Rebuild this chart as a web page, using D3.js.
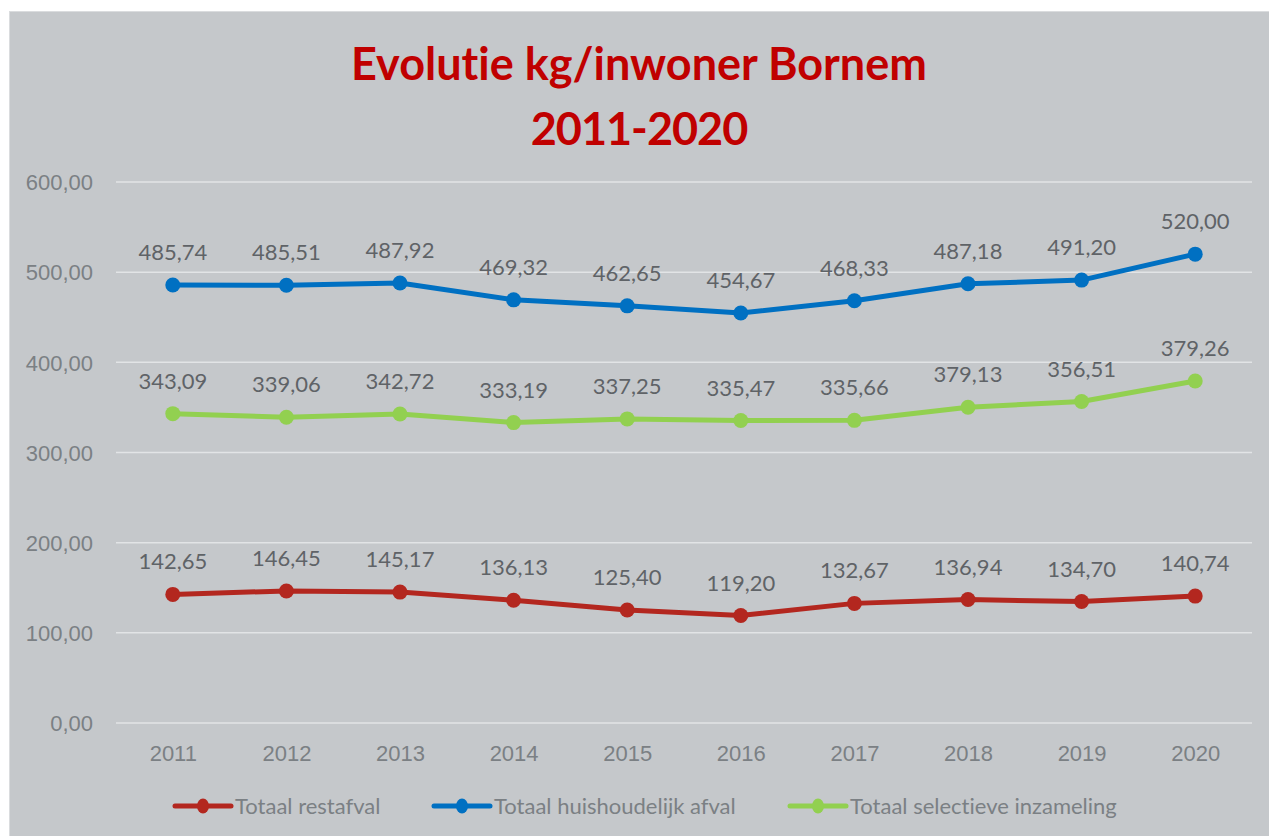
<!DOCTYPE html>
<meta charset="utf-8">
<style>
  body { margin: 0; background: #fff; }
  svg { display: block; font-family: Lato, "Open Sans", sans-serif; font-variant-ligatures: none; }
  .grid line { stroke: #e2e4e6; stroke-width: 1.5; }
  .axis text { fill: #7b8084; font-size: 22px; }
  .dlabel { fill: #5f6367; font-size: 22px; text-anchor: middle; }
  .legend text { fill: #7b8084; font-size: 22px; }
</style>
<script src="https://d3js.org/d3.v7.min.js"></script>
<div id="chart"></div>
<script>

// data
var years = ["2011", "2012", "2013", "2014", "2015", "2016", "2017", "2018", "2019", "2020"];
var restafval     = [142.65, 146.45, 145.17, 136.13, 125.40, 119.20, 132.67, 136.94, 134.70, 140.74];
var huishoudelijk = [485.74, 485.51, 487.92, 469.32, 462.65, 454.67, 468.33, 487.18, 491.20, 520.00];
var selectief     = [343.09, 339.06, 342.72, 333.19, 337.25, 335.47, 335.66, 350.24, 356.51, 379.26];
// the source chart prints a different label for 2018 than the plotted value
var selectiefLabels = ["343,09", "339,06", "342,72", "333,19", "337,25", "335,47", "335,66", "379,13", "356,51", "379,26"];
var yTicks = [0, 100, 200, 300, 400, 500, 600];

var nl = d3.formatLocale({decimal: ",", thousands: ".", grouping: [3], currency: ["€", ""]});
var fmt = nl.format(".2f");

var series = [
  {name: "Totaal restafval", color: "#b3271f", values: restafval, labels: restafval.map(fmt)},
  {name: "Totaal huishoudelijk afval", color: "#0070c2", values: huishoudelijk, labels: huishoudelijk.map(fmt)},
  {name: "Totaal selectieve inzameling", color: "#92d050", values: selectief, labels: selectiefLabels}
];

var W = 1269, H = 836;
var svg = d3.select("#chart").append("svg")
    .attr("width", W)
    .attr("height", H);

// chart background
svg.append("rect")
    .attr("x", 9.5).attr("y", 11.5)
    .attr("width", W - 9).attr("height", H - 11)
    .attr("fill", "#c5c8cb")
    .attr("stroke", "#dadcde")
    .attr("stroke-width", 1);

// title
var title = svg.append("text")
    .attr("text-anchor", "middle")
    .attr("fill", "#c00000")
    .attr("font-weight", "bold")
    .attr("font-size", "45px");
title.append("tspan").attr("x", 639).attr("y", 80).text("Evolutie kg/inwoner Bornem");
title.append("tspan").attr("x", 639).attr("y", 145).attr("letter-spacing", "-1px").text("2011-2020");

var plotLeft = 116, plotRight = 1252, plotTop = 182, plotBottom = 723;

var x = d3.scalePoint()
    .domain(years)
    .range([plotLeft, plotRight])
    .padding(0.5);

var y = d3.scaleLinear()
    .domain([0, 600])
    .range([plotBottom, plotTop]);

// gridlines
svg.append("g")
    .attr("class", "grid")
  .selectAll("line")
  .data(yTicks)
  .enter().append("line")
    .attr("x1", plotLeft).attr("x2", plotRight)
    .attr("y1", function(d) { return y(d); })
    .attr("y2", function(d) { return y(d); });

// y axis labels
var yAxis = svg.append("g")
    .attr("class", "axis")
    .attr("transform", "translate(" + (plotLeft - 23) + ",0)")
    .call(d3.axisLeft(y).tickValues(yTicks).tickFormat(fmt).tickSize(0).tickPadding(0));
yAxis.select(".domain").remove();
yAxis.selectAll("text").attr("dy", "0.35em");

// x axis labels
var xAxis = svg.append("g")
    .attr("class", "axis")
    .attr("transform", "translate(0," + plotBottom + ")")
    .call(d3.axisBottom(x).tickSize(0).tickPadding(22));
xAxis.select(".domain").remove();

var line = d3.line()
    .x(function(d, i) { return x(years[i]); })
    .y(function(d) { return y(d); });

series.forEach(function(s) {
  var g = svg.append("g");
  g.append("path")
      .datum(s.values)
      .attr("d", line)
      .attr("fill", "none")
      .attr("stroke", s.color)
      .attr("stroke-width", 5)
      .attr("stroke-linejoin", "round");
  g.selectAll("circle")
      .data(s.values)
      .enter().append("circle")
      .attr("cx", function(d, i) { return x(years[i]); })
      .attr("cy", function(d) { return y(d); })
      .attr("r", 7.5)
      .attr("fill", s.color);
  g.selectAll("text")
      .data(s.values)
      .enter().append("text")
      .attr("class", "dlabel")
      .attr("x", function(d, i) { return x(years[i]); })
      .attr("y", function(d) { return y(d) - 25; })
      .text(function(d, i) { return s.labels[i]; });
});

// legend
var legendX = [175, 434, 790];
var legend = svg.append("g").attr("class", "legend");
series.forEach(function(s, i) {
  var lg = legend.append("g").attr("transform", "translate(" + legendX[i] + ",806)");
  lg.append("line")
      .attr("x1", 0).attr("x2", 56)
      .attr("stroke", s.color)
      .attr("stroke-width", 5)
      .attr("stroke-linecap", "round");
  lg.append("ellipse")
      .attr("cx", 28).attr("rx", 6).attr("ry", 7.5)
      .attr("fill", s.color);
  lg.append("text")
      .attr("x", 60)
      .attr("dy", "0.35em")
      .text(s.name);
});
</script>
